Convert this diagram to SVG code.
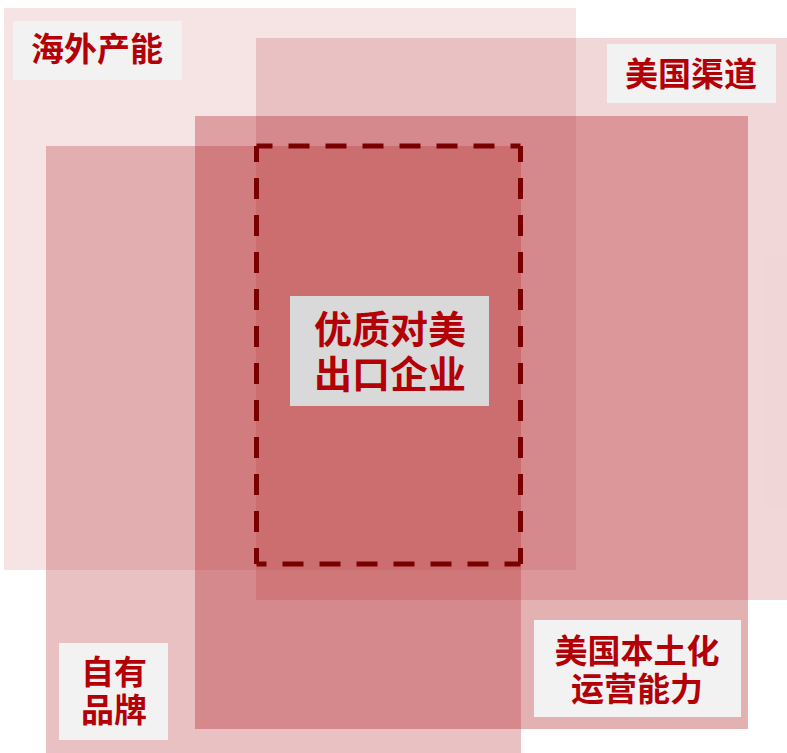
<svg xmlns="http://www.w3.org/2000/svg" width="787" height="753" viewBox="0 0 787 753">
<style>
.area{fill:#B4282D;stroke:none}
.box{fill:#F2F2F2}
.cbox{fill:#D9D9D9}
.lbl{font-family:"Noto Sans CJK SC","Microsoft YaHei",sans-serif;font-weight:700;fill:#B30006;text-anchor:middle}
.s{font-size:33px}
.c{font-size:38px}
.dash{fill:none;stroke:#7A0000;stroke-width:5;stroke-dasharray:21 16;stroke-dashoffset:5}
</style>
<rect width="787" height="753" fill="#FFFFFF"/>
<g id="overseas-capacity">
<rect class="area" x="4" y="8" width="572" height="562" fill-opacity="0.125"/>
<rect class="box" x="13" y="21" width="169" height="59"/>
<text class="lbl s" x="97" y="61">海外产能</text>
</g>
<g id="us-channel">
<rect class="area" x="256" y="38" width="531" height="562" fill-opacity="0.19"/>
<rect class="box" x="607" y="44" width="169" height="59"/>
<text class="lbl s" x="691" y="86">美国渠道</text>
</g>
<g id="own-brand">
<rect class="area" x="46" y="146" width="475" height="607" fill-opacity="0.29"/>
<rect class="box" x="59" y="643" width="109" height="97"/>
<text class="lbl s" x="114" y="684">自有<tspan x="114" dy="38">品牌</tspan></text>
</g>
<g id="us-localization">
<rect class="area" x="195" y="116" width="553" height="613" fill-opacity="0.36"/>
<rect class="box" x="534" y="620" width="207" height="97"/>
<text class="lbl s" x="637" y="663">美国本土化<tspan x="637" dy="38">运营能力</tspan></text>
</g>
<g id="connectors"></g>
<g id="quality-exporters">
<path class="dash" d="M256.5,146 H520.5"/>
<path class="dash" d="M520.5,146 V564"/>
<path class="dash" d="M520.5,564 H256.5"/>
<path class="dash" d="M256.5,564 V146"/>
<rect class="cbox" x="290" y="296" width="199" height="110"/>
<text class="lbl c" x="390" y="343">优质对美<tspan x="390" dy="45">出口企业</tspan></text>
</g>
</svg>
